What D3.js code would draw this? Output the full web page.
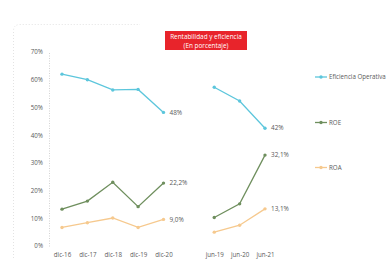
<!DOCTYPE html>
<html><head><meta charset="utf-8">
<script src="https://cdn.jsdelivr.net/npm/d3@7"></script>
<style>html,body{margin:0;padding:0;background:#fff;}svg{display:block;}</style>
</head><body>
<script>
const categories = ["dic-16","dic-17","dic-18","dic-19","dic-20","","jun-19","jun-20","jun-21"];
const eficiencia = [62.0, 60.0, 56.3, 56.5, 48.2, null, 57.3, 52.3, 42.5];
const roe = [13.3, 16.2, 23.0, 14.2, 22.7, null, 10.3, 15.2, 32.8];
const roa = [6.7, 8.4, 10.1, 6.7, 9.6, null, 5.0, 7.5, 13.4];
const yTicks = [0, 10, 20, 30, 40, 50, 60, 70];
const endLabels = [
  {series: "eficiencia", idx: 4, text: "48%"},
  {series: "roe", idx: 4, text: "22,2%"},
  {series: "roa", idx: 4, text: "9,0%"},
  {series: "eficiencia", idx: 8, text: "42%"},
  {series: "roe", idx: 8, text: "32,1%"},
  {series: "roa", idx: 8, text: "13,1%"}
];
const seriesNames = ["Eficiencia Operativa", "ROE", "ROA"];
const colors = {eficiencia: "#5cc6dc", roe: "#6f8f5e", roa: "#f6c98e"};

const W = 392, H = 261;
const svg = d3.select("body").append("svg").attr("width", W).attr("height", H);
const font = "'Open Sans', 'Liberation Sans', sans-serif";

// faint dotted frame (only left and top-left visible)
svg.append("path").attr("d", "M13.5,258 L13.5,31 Q13.5,24.5 20,24.5 L140,24.5")
  .attr("fill", "none").attr("stroke", "#dcdcdc").attr("stroke-width", 0.8)
  .attr("stroke-dasharray", "1,2");

const x = d3.scalePoint().domain(categories.map((c,i)=>i)).range([62, 265]);
const y = d3.scaleLinear().domain([0, 70]).range([246, 52]);

// y axis
const yAxis = d3.axisLeft(y).tickValues(yTicks).tickFormat(d => d + "%").tickSize(0).tickPadding(6);
const ga = svg.append("g").attr("transform", "translate(49,0)").call(yAxis);
ga.select(".domain").attr("stroke", "#c8c8c8").attr("stroke-width", 0.8).attr("stroke-dasharray", "1,1.5");
ga.selectAll("text").attr("font-family", font).attr("font-size", 6.2).attr("fill", "#5a5a5a");

// x axis labels
const xAxis = d3.axisBottom(x).tickFormat(i => categories[i]).tickSize(0).tickPadding(4);
const gx = svg.append("g").attr("transform", "translate(0,249)").call(xAxis);
gx.select(".domain").remove();
gx.selectAll("text").attr("font-family", font).attr("font-size", 6.2).attr("fill", "#5a5a5a");

const data = {eficiencia, roe, roa};
const line = d3.line().defined(d => d.v != null).x(d => x(d.i)).y(d => y(d.v));
Object.keys(data).forEach(k => {
  const pts = data[k].map((v, i) => ({v, i}));
  svg.append("path").datum(pts).attr("d", line).attr("fill", "none")
    .attr("stroke", colors[k]).attr("stroke-width", 1.3);
  svg.selectAll(null).data(pts.filter(d => d.v != null)).enter().append("circle")
    .attr("cx", d => x(d.i)).attr("cy", d => y(d.v)).attr("r", 1.7).attr("fill", colors[k]);
});

endLabels.forEach(l => {
  const v = data[l.series][l.idx];
  svg.append("text").attr("x", x(l.idx) + 6).attr("y", y(v) + 2.2)
    .attr("font-family", font).attr("font-size", 6.4).attr("fill", "#5a5a5a").text(l.text);
});

// title box
svg.append("rect").attr("x", 165).attr("y", 31).attr("width", 82).attr("height", 19).attr("fill", "#e8242b");
svg.append("text").attr("x", 206).attr("y", 39).attr("text-anchor", "middle")
  .attr("font-family", font).attr("font-size", 6.4).attr("fill", "#fff").text("Rentabilidad y eficiencia");
svg.append("text").attr("x", 206).attr("y", 47.5).attr("text-anchor", "middle")
  .attr("font-family", font).attr("font-size", 6.4).attr("fill", "#fff").text("(En porcentaje)");

// legend
const legY = [77, 122.5, 167.5];
const legKeys = ["eficiencia", "roe", "roa"];
seriesNames.forEach((n, i) => {
  const k = legKeys[i];
  svg.append("line").attr("x1", 315).attr("x2", 327).attr("y1", legY[i]).attr("y2", legY[i])
    .attr("stroke", colors[k]).attr("stroke-width", 1.3);
  svg.append("circle").attr("cx", 321).attr("cy", legY[i]).attr("r", 1.7).attr("fill", colors[k]);
  svg.append("text").attr("x", 329).attr("y", legY[i] + 2.2).attr("font-family", font)
    .attr("font-size", 6.2).attr("fill", "#5a5a5a").text(n);
});
</script>
</body></html>
